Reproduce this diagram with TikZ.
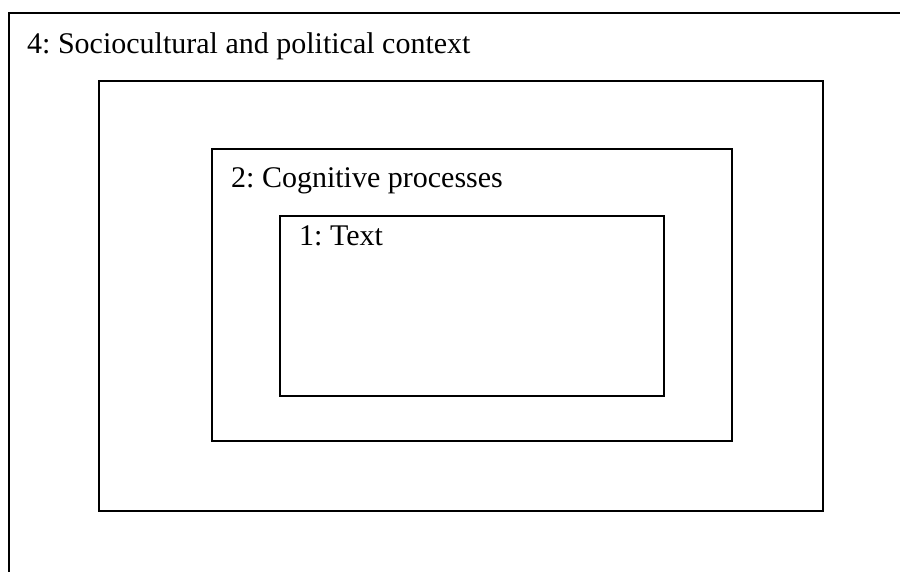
\documentclass[tikz,border=0pt]{standalone}
\usepackage{fontspec}
\setmainfont{Liberation Serif}
\frenchspacing
\begin{document}
\begin{tikzpicture}[x=1pt,y=-1pt,
  frame/.style={draw=black,line width=1.5pt},
  lbl/.style={anchor=base west,inner sep=0pt,font=\fontsize{30}{36}\selectfont}]
\useasboundingbox (0,0) rectangle (900,571);
% outer context (only left and top edges visible)
\coordinate (oBL) at (9,572);
\coordinate (oTL) at (9,13);
\coordinate (oTR) at (901,13);
\draw[frame,line cap=rect] (oBL) -- (oTL) -- (oTR);
\node[lbl] (l4) at (27,53) {4: Sociocultural and political context};
% box 3
\draw[frame] (99,81) rectangle (823,511);
% box 2
\draw[frame] (212,149) rectangle (732,441);
\node[lbl] (l2) at (231,187) {2: Cognitive processes};
% box 1
\draw[frame] (280,216) rectangle (664,396);
\node[lbl] (l1) at (299,245) {1: Text};
\end{tikzpicture}
\end{document}
